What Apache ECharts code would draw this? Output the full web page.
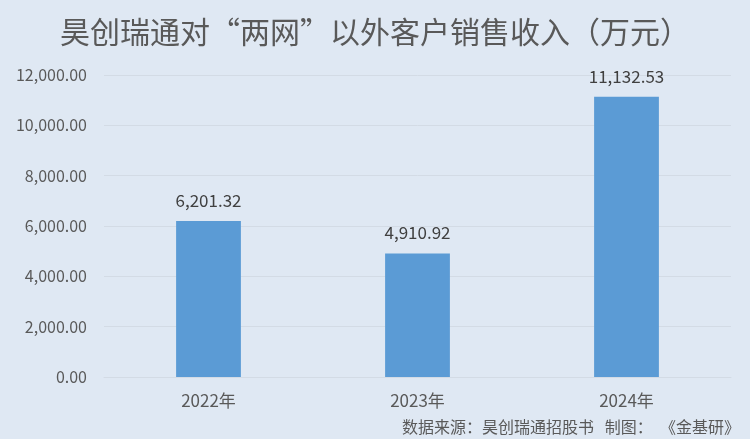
<!DOCTYPE html>
<html><head><meta charset="utf-8">
<script src="https://cdn.jsdelivr.net/npm/echarts@6/dist/echarts.min.js"></script>
<style>html,body{margin:0;padding:0;background:#dfe8f3;}#c{width:750px;height:439px;}</style>
</head><body><div id="c"></div>
<script>
const categories = ['2022年', '2023年', '2024年'];
const values = [6201.32, 4910.92, 11132.53];
const titleText = '昊创瑞通对“两网”以外客户销售收入（万元）';
const sourceText = '数据来源：昊创瑞通招股书   制图：  《金基研》';
const fmt = v => v.toLocaleString('en-US', {minimumFractionDigits: 2, maximumFractionDigits: 2});
const chart = echarts.init(document.getElementById('c'));
chart.setOption({
  backgroundColor: '#dfe8f3',
  animation: false,
  title: [{
    text: titleText, left: 'center', top: 12,
    textStyle: {fontFamily: 'Noto Sans CJK SC', fontSize: 30, fontWeight: 'normal', color: '#595959'}
  }, {
    text: sourceText, right: 5, top: 414,
    textStyle: {fontFamily: 'Noto Sans CJK SC', fontSize: 16, fontWeight: 'normal', color: '#595959'}
  }],
  grid: {left: 104, right: 19, top: 75, bottom: 62},
  xAxis: {
    type: 'category', data: categories,
    axisLine: {lineStyle: {color: '#d3dbe5'}}, axisTick: {show: false},
    axisLabel: {color: '#595959', fontSize: 17, fontFamily: 'Noto Sans CJK SC', margin: 15}
  },
  yAxis: {
    type: 'value', min: 0, max: 12000, interval: 2000,
    axisLine: {show: false}, axisTick: {show: false},
    splitLine: {lineStyle: {color: '#d3dbe5'}},
    axisLabel: {color: '#595959', fontSize: 16, fontFamily: 'Noto Sans CJK SC', margin: 17, formatter: fmt}
  },
  series: [{
    type: 'bar', data: values, barWidth: '31%',
    itemStyle: {color: '#5b9bd5'},
    label: {show: true, position: 'top', distance: 12, color: '#404040', fontSize: 17, fontFamily: 'Noto Sans CJK SC', formatter: p => fmt(p.value)}
  }]
});
</script></body></html>
